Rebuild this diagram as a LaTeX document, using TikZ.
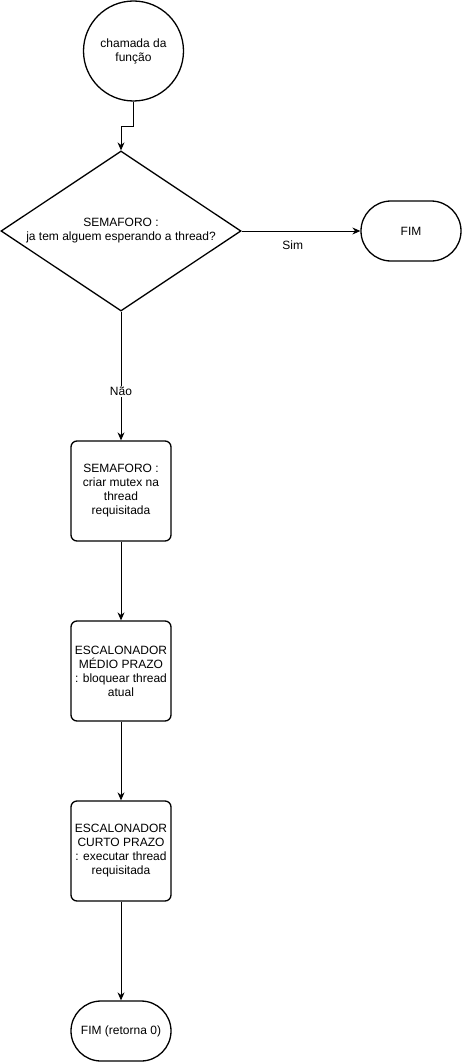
\documentclass[tikz,border=0pt]{standalone}
\usepackage{fontspec}
\setmainfont{Liberation Sans}
\usetikzlibrary{arrows.meta,shapes.geometric}

\begin{document}
\begin{tikzpicture}[x=1pt,y=-1pt,
    every node/.style={font=\fontsize{12}{14}\selectfont, align=center},
    passo/.style={draw, line width=1.3pt, rounded corners=6pt, minimum width=100pt, minimum height=100pt, inner sep=1pt},
    fim/.style={draw, line width=1.3pt, rounded corners=30pt, minimum width=100pt, minimum height=60pt},
    seta/.style={-{Stealth[length=8pt,width=7pt]}, line width=0.9pt}]
    \useasboundingbox (0,0) rectangle (462,1062);

    \node[draw, circle, line width=1.3pt, minimum size=100pt] (inicio) at (133.5,51) {chamada da\\função};
    \node[draw, diamond, line width=1.3pt, aspect=1.5, inner sep=0pt, minimum width=240pt, minimum height=160pt] (decisao) at (121,231) {SEMAFORO :\\ja tem alguem esperando a thread?};
    \node[fim] (fimsim) at (411,231) {FIM};
    \node[passo] (mutex) at (121,491) {SEMAFORO :\\criar mutex na\\thread\\requisitada};
    \node[passo] (medio) at (121,671) {ESCALONADOR\\MÉDIO PRAZO\\: bloquear thread\\atual};
    \node[passo] (curto) at (121,851) {ESCALONADOR\\CURTO PRAZO\\: executar thread\\requisitada};
    \node[fim] (fimret) at (121,1031) {FIM (retorna 0)};

    \draw[seta] (inicio.south) -- ++(0,25) -| (decisao.north);
    \draw[seta] (decisao.east) -- (fimsim.west) node[pos=0.43, yshift=-14pt] {Sim};
    \draw[seta] (decisao.south) -- (mutex.north) node[pos=0.62, fill=white, inner sep=1pt] {Não};
    \draw[seta] (mutex) -- (medio);
    \draw[seta] (medio) -- (curto);
    \draw[seta] (curto) -- (fimret);
\end{tikzpicture}
\end{document}
